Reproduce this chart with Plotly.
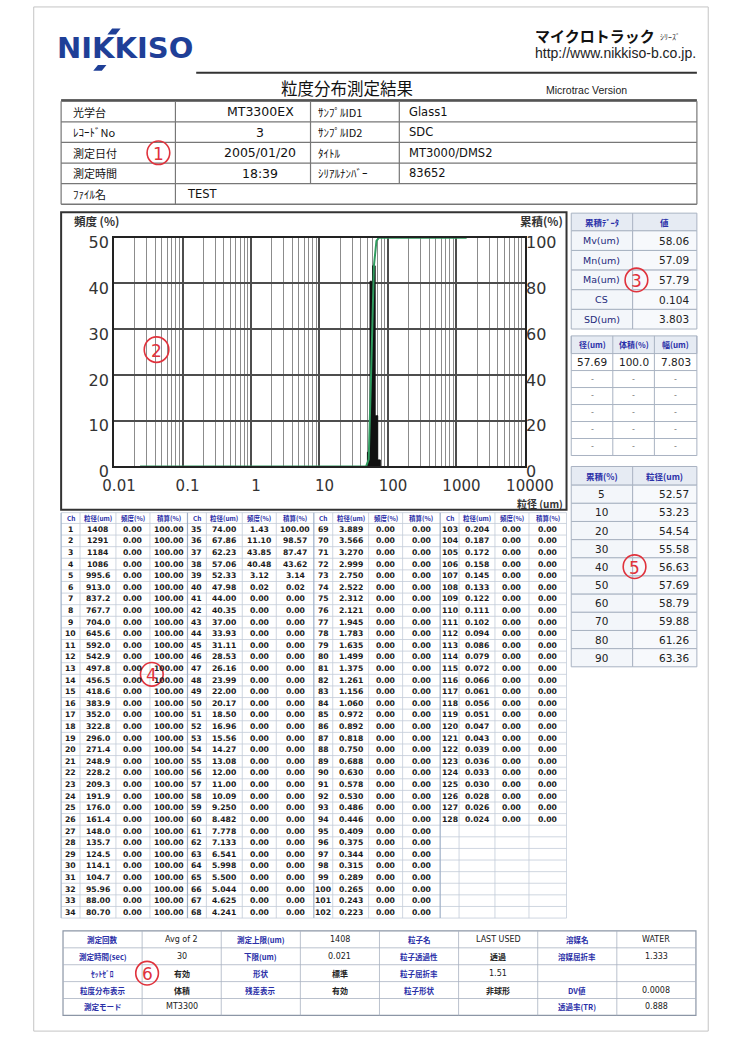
import plotly.graph_objects as go

W, H = 741, 1052
JP = "Noto Sans CJK JP"
NUM = "DejaVu Sans"
BLUE = "#2a2fa8"
RED = "#e0323c"

# ---- measured channels: size (um), frequency (%), cumulative (%) ----
ch_size = [1408, 1291, 1184, 1086, 995.6, 913.0, 837.2, 767.7, 704.0, 645.6,
           592.0, 542.9, 497.8, 456.5, 418.6, 383.9, 352.0, 322.8, 296.0, 271.4,
           248.9, 228.2, 209.3, 191.9, 176.0, 161.4, 148.0, 135.7, 124.5, 114.1,
           104.7, 95.96, 88.00, 80.70, 74.00, 67.86, 62.23, 57.06, 52.33, 47.98,
           44.00, 40.35, 37.00, 33.93, 31.11, 28.53, 26.16, 23.99, 22.00, 20.17,
           18.50, 16.96, 15.56, 14.27, 13.08, 12.00, 11.00, 10.09, 9.250, 8.482,
           7.778, 7.133, 6.541, 5.998, 5.500, 5.044, 4.625, 4.241, 3.889, 3.566,
           3.270, 2.999, 2.750, 2.522, 2.312, 2.121, 1.945, 1.783, 1.635, 1.499,
           1.375, 1.261, 1.156, 1.060, 0.972, 0.892, 0.818, 0.750, 0.688, 0.630,
           0.578, 0.530, 0.486, 0.446, 0.409, 0.375, 0.344, 0.315, 0.289, 0.265,
           0.243, 0.223, 0.204, 0.187, 0.172, 0.158, 0.145, 0.133, 0.122, 0.111,
           0.102, 0.094, 0.086, 0.079, 0.072, 0.066, 0.061, 0.056, 0.051, 0.047,
           0.043, 0.039, 0.036, 0.033, 0.030, 0.028, 0.026, 0.024]

ch_freq = [0.00, 0.00, 0.00, 0.00, 0.00, 0.00, 0.00, 0.00, 0.00, 0.00,
           0.00, 0.00, 0.00, 0.00, 0.00, 0.00, 0.00, 0.00, 0.00, 0.00,
           0.00, 0.00, 0.00, 0.00, 0.00, 0.00, 0.00, 0.00, 0.00, 0.00,
           0.00, 0.00, 0.00, 0.00, 1.43, 11.10, 43.85, 40.48, 3.12, 0.02,
           0.00, 0.00, 0.00, 0.00, 0.00, 0.00, 0.00, 0.00, 0.00, 0.00,
           0.00, 0.00, 0.00, 0.00, 0.00, 0.00, 0.00, 0.00, 0.00, 0.00,
           0.00, 0.00, 0.00, 0.00, 0.00, 0.00, 0.00, 0.00, 0.00, 0.00,
           0.00, 0.00, 0.00, 0.00, 0.00, 0.00, 0.00, 0.00, 0.00, 0.00,
           0.00, 0.00, 0.00, 0.00, 0.00, 0.00, 0.00, 0.00, 0.00, 0.00,
           0.00, 0.00, 0.00, 0.00, 0.00, 0.00, 0.00, 0.00, 0.00, 0.00,
           0.00, 0.00, 0.00, 0.00, 0.00, 0.00, 0.00, 0.00, 0.00, 0.00,
           0.00, 0.00, 0.00, 0.00, 0.00, 0.00, 0.00, 0.00, 0.00, 0.00,
           0.00, 0.00, 0.00, 0.00, 0.00, 0.00, 0.00, 0.00]

ch_cum = [100.00, 100.00, 100.00, 100.00, 100.00, 100.00, 100.00, 100.00, 100.00, 100.00,
          100.00, 100.00, 100.00, 100.00, 100.00, 100.00, 100.00, 100.00, 100.00, 100.00,
          100.00, 100.00, 100.00, 100.00, 100.00, 100.00, 100.00, 100.00, 100.00, 100.00,
          100.00, 100.00, 100.00, 100.00, 100.00, 98.57, 87.47, 43.62, 3.14, 0.02,
          0.00, 0.00, 0.00, 0.00, 0.00, 0.00, 0.00, 0.00, 0.00, 0.00,
          0.00, 0.00, 0.00, 0.00, 0.00, 0.00, 0.00, 0.00, 0.00, 0.00,
          0.00, 0.00, 0.00, 0.00, 0.00, 0.00, 0.00, 0.00, 0.00, 0.00,
          0.00, 0.00, 0.00, 0.00, 0.00, 0.00, 0.00, 0.00, 0.00, 0.00,
          0.00, 0.00, 0.00, 0.00, 0.00, 0.00, 0.00, 0.00, 0.00, 0.00,
          0.00, 0.00, 0.00, 0.00, 0.00, 0.00, 0.00, 0.00, 0.00, 0.00,
          0.00, 0.00, 0.00, 0.00, 0.00, 0.00, 0.00, 0.00, 0.00, 0.00,
          0.00, 0.00, 0.00, 0.00, 0.00, 0.00, 0.00, 0.00, 0.00, 0.00,
          0.00, 0.00, 0.00, 0.00, 0.00, 0.00, 0.00, 0.00]

x_tick_vals = [0.01, 0.1, 1, 10, 100, 1000, 10000]
x_tick_text = ["0.01", "0.1", "1", "10", "100", "1000", "10000"]

# ---- header information ----
info_rows = [
    ["光学台", "MT3300EX", "ｻﾝﾌﾟﾙID1", "Glass1"],
    ["ﾚｺｰﾄﾞNo", "3", "ｻﾝﾌﾟﾙID2", "SDC"],
    ["測定日付", "2005/01/20", "ﾀｲﾄﾙ", "MT3000/DMS2"],
    ["測定時間", "18:39", "ｼﾘｱﾙﾅﾝﾊﾞｰ", "83652"],
]
file_label, file_name = "ﾌｧｲﾙ名", "TEST"

# ---- summary statistics ----
summary_labels = ["Mv(um)", "Mn(um)", "Ma(um)", "CS", "SD(um)"]
summary_values = ["58.06", "57.09", "57.79", "0.104", "3.803"]
peak_header = ["径(um)", "体積(%)", "幅(um)"]
peak_rows = [["57.69", "100.0", "7.803"], ["-", "-", "-"], ["-", "-", "-"],
             ["-", "-", "-"], ["-", "-", "-"], ["-", "-", "-"]]
pct_levels = [5, 10, 20, 30, 40, 50, 60, 70, 80, 90]
pct_sizes = [52.57, 53.23, 54.54, 55.58, 56.63, 57.69, 58.79, 59.88, 61.26, 63.36]

# ---- measurement conditions ----
cond_rows = [
    ["測定回数", "Avg of 2", "測定上限(um)", "1408", "粒子名", "LAST USED", "溶媒名", "WATER"],
    ["測定時間(sec)", "30", "下限(um)", "0.021", "粒子透過性", "透過", "溶媒屈折率", "1.333"],
    ["ｾｯﾄｾﾞﾛ", "有効", "形状", "標準", "粒子屈折率", "1.51", "", ""],
    ["粒度分布表示", "体積", "残差表示", "有効", "粒子形状", "非球形", "DV値", "0.0008"],
    ["測定モード", "MT3300", "", "", "", "", "透過率(TR)", "0.888"],
]

shapes, anns = [], []


def X(v):
    return v / W


def Y(v):
    return 1 - v / H


def line(x0, y0, x1, y1, color="#666", w=1):
    shapes.append(dict(type="line", xref="paper", yref="paper", x0=X(x0), y0=Y(y0),
                       x1=X(x1), y1=Y(y1), line=dict(color=color, width=w), layer="above"))


def rect(x0, y0, x1, y1, color="#666", w=1, fill=None, layer="above"):
    d = dict(type="rect", xref="paper", yref="paper", x0=X(x0), y0=Y(y0), x1=X(x1), y1=Y(y1),
             line=dict(color=color, width=w), layer=layer)
    if fill:
        d["fillcolor"] = fill
    shapes.append(d)


def text(x, y, s, size=10, color="#111", family=JP, anchor="center", bold=False):
    anns.append(dict(x=X(x), y=Y(y), xref="paper", yref="paper", showarrow=False,
                     text=f"<b>{s}</b>" if bold else s, xanchor=anchor, yanchor="middle",
                     font=dict(size=size, color=color, family=family)))


def mark(cx, cy, label, r=12):
    shapes.append(dict(type="circle", xref="paper", yref="paper", x0=X(cx - r), x1=X(cx + r),
                       y0=Y(cy + r), y1=Y(cy - r), line=dict(color=RED, width=1.6), layer="above"))
    text(cx, cy + 1, label, size=17, color=RED, family=NUM)


# ---- page frame and header ----
rect(23, 3, 737, 1046, color="#c4c4c4", w=1, layer="below")
text(120, 45, "NIKKISO", size=29, color="#1f3f97", family=NUM, bold=True)
shapes.append(dict(type="path", xref="paper", yref="paper", fillcolor="#1f3f97", line=dict(width=0),
                   path=f"M {X(101)},{Y(31)} L {X(106)},{Y(25)} L {X(115)},{Y(25)} L {X(110)},{Y(31)} Z"))
shapes.append(dict(type="path", xref="paper", yref="paper", fillcolor="#1f3f97", line=dict(width=0),
                   path=f"M {X(86)},{Y(68)} L {X(91)},{Y(62)} L {X(100)},{Y(62)} L {X(95)},{Y(68)} Z"))
text(683, 32, "マイクロトラック", size=15, color="#111", family=JP, anchor="right", bold=True)
text(684, 33, "ｼﾘｰｽﾞ", size=8, color="#333", family=JP, anchor="left")
text(726, 50, "http://www.nikkiso-b.co.jp.", size=14, color="#222", family="Liberation Sans", anchor="right")
line(195, 70, 725, 70, color="#333", w=2.2)
text(355, 86, "粒度分布測定結果", size=16.5, color="#111")
text(608, 88, "Microtrac Version", size=10.5, color="#222", family="Liberation Sans")
line(52, 98, 725, 98, color="#333", w=2.2)

# ---- information table ----
it_top, it_h = 99, 21
c1, c2, c3 = 173, 316, 410
for i in range(6):
    line(52, it_top + i * it_h, 725, it_top + i * it_h, color="#777", w=1.2 if 0 < i < 5 else 1.6)
line(52, it_top, 52, it_top + 5 * it_h, color="#777", w=1.2)
line(725, it_top, 725, it_top + 5 * it_h, color="#777", w=1.2)
line(c1, it_top, c1, it_top + 5 * it_h, color="#777", w=1.2)
line(c2, it_top, c2, it_top + 4 * it_h, color="#777", w=1.2)
line(c3, it_top, c3, it_top + 4 * it_h, color="#777", w=1.2)
for i, row in enumerate(info_rows):
    cy = it_top + (i + 0.5) * it_h
    text(62, cy, row[0], size=11, anchor="left")
    text(263, cy, row[1], size=12.5, family=NUM)
    text(c2 + 6, cy, row[2], size=11, anchor="left")
    text(c3 + 8, cy, row[3], size=11.5, family=NUM, anchor="left")
cy = it_top + 4.5 * it_h
text(62, cy, file_label, size=11, anchor="left")
text(c1 + 10, cy, file_name, size=11.5, family=NUM, anchor="left")
mark(155, it_top + 2.5 * it_h, "1")

# ---- chart frame ----
rect(52, 212, 587, 515, color="#333", w=2)
text(63, 221, "頻度 (%)", size=11.5, color="#333", anchor="left", bold=True)
text(585, 221, "累積(%)", size=11.5, color="#333", anchor="right", bold=True)
text(585, 508.5, "粒径 (um)", size=10, color="#333", anchor="right", bold=True)
mark(153, 352, "2", r=13)

fig = go.Figure()
fig.add_trace(go.Scatter(x=ch_size, y=ch_freq, mode="lines", fill="tozeroy", fillcolor="#111",
                         line=dict(color="#111", width=1, shape="hvh"), hoverinfo="skip",
                         xaxis="x", yaxis="y", showlegend=False))
fig.add_trace(go.Scatter(x=ch_size, y=ch_cum, mode="lines",
                         line=dict(color="#2f9a5e", width=2), hoverinfo="skip",
                         xaxis="x", yaxis="y2", showlegend=False))

minor_vals = [m * 10.0 ** e for e in range(-2, 4) for m in range(2, 10)]
tick_font = dict(family=NUM, size=16, color="#333")
xtick_font = dict(family=NUM, size=15, color="#333")
plot_l, plot_r, plot_t, plot_b = 108, 543, 238, 471

# ---- right panel: statistics ----
px0, pxm, px1 = 592, 657, 725
GRID = "#a9b3c2"
HDR = "#e6ebf3"
rect(px0, 213, px1, 231, color=GRID, fill=HDR)
text((px0 + pxm) / 2, 222, "累積ﾃﾞｰﾀ", size=8.5, color=BLUE, bold=True)
text((pxm + px1) / 2, 222, "値", size=8.5, color=BLUE, bold=True)
for i, (lab, val) in enumerate(zip(summary_labels, summary_values)):
    y0 = 231 + i * 20
    rect(px0, y0, pxm, y0 + 20, color=GRID, fill="#f3f6fa")
    rect(pxm, y0, px1, y0 + 20, color=GRID, fill="#f7f9fc")
    text((px0 + pxm) / 2, y0 + 10, lab, size=9.5, color="#23287a", family=NUM)
    text(px1 - 6, y0 + 10, val, size=10.5, color="#222", family=NUM, anchor="right")
line(pxm, 213, pxm, 231, color=GRID)
mark(661, 281, "3")

pk = [592, 636, 680, 725]
rect(px0, 338, px1, 356, color=GRID, fill=HDR)
for j in range(3):
    text((pk[j] + pk[j + 1]) / 2, 347, peak_header[j], size=8, color=BLUE, bold=True)
    line(pk[j], 338, pk[j], 460, color=GRID)
line(px1, 338, px1, 460, color=GRID)
for i, row in enumerate(peak_rows):
    y0 = 356 + i * 17.3
    line(px0, y0 + 17.3, px1, y0 + 17.3, color=GRID)
    for j in range(3):
        text((pk[j] + pk[j + 1]) / 2, y0 + 8.6, row[j], size=10.5 if i == 0 else 8,
             color="#222" if i == 0 else "#777", family=NUM)

rect(px0, 471, px1, 490, color=GRID, fill=HDR)
text((px0 + pxm) / 2, 481, "累積(%)", size=8.5, color=BLUE, bold=True)
text((pxm + px1) / 2, 481, "粒径(um)", size=8.5, color=BLUE, bold=True)
for i, (lv, sz) in enumerate(zip(pct_levels, pct_sizes)):
    y0 = 490 + i * 18.5
    rect(px0, y0, pxm, y0 + 18.5, color=GRID, fill="#f3f6fa")
    rect(pxm, y0, px1, y0 + 18.5, color=GRID, fill="#f7f9fc")
    text((px0 + pxm) / 2, y0 + 9.2, str(lv), size=10.5, color="#222", family=NUM)
    text(px1 - 6, y0 + 9.2, f"{sz:.2f}", size=10.5, color="#222", family=NUM, anchor="right")
line(pxm, 471, pxm, 490, color=GRID)
mark(659, 573, "5")

# ---- channel data table ----
tb_left, blk_w = 52, 133.75
tb_top, hdr_h, row_h, n_rows = 518, 11, 11.82, 34
col_edges = [0, 20, 58, 94, 133.75]
col_head = ["Ch", "粒径(um)", "頻度(%)", "積算(%)"]
TGRID = "#c3cbd8"
tb_bottom = tb_top + hdr_h + n_rows * row_h
for i in range(n_rows + 2):
    yy = tb_top if i == 0 else tb_top + hdr_h + (i - 1) * row_h
    line(tb_left, yy, tb_left + 4 * blk_w, yy, color=TGRID, w=0.8)
for b in range(4):
    bx = tb_left + b * blk_w
    for k, e in enumerate(col_edges[:-1]):
        line(bx + e, tb_top, bx + e, tb_bottom, color="#9fb0c8" if k == 0 else TGRID,
             w=1.2 if k == 0 else 0.8)
    for k in range(4):
        cxx = bx + (col_edges[k] + col_edges[k + 1]) / 2
        text(cxx, tb_top + hdr_h / 2, col_head[k], size=6.5, color=BLUE, bold=True)


def fmt_size(v):
    if v >= 1000:
        return f"{v:.0f}"
    if v >= 100:
        return f"{v:.1f}"
    if v >= 10:
        return f"{v:.2f}"
    return f"{v:.3f}"


for idx, (s, f, c) in enumerate(zip(ch_size, ch_freq, ch_cum)):
    b, r = divmod(idx, n_rows)
    bx = tb_left + b * blk_w
    cy = tb_top + hdr_h + (r + 0.5) * row_h
    cells = [str(idx + 1), fmt_size(s), f"{f:.2f}", f"{c:.2f}"]
    for k in range(4):
        cxx = bx + (col_edges[k] + col_edges[k + 1]) / 2
        text(cxx, cy, cells[k], size=7.7, color="#1a1a1a", family=NUM, bold=True)
line(tb_left + 4 * blk_w, tb_top, tb_left + 4 * blk_w, tb_bottom, color=TGRID, w=0.8)
mark(148, tb_top + hdr_h + 13 * row_h, "4")

# ---- measurement conditions table ----
ct_left, ct_right, ct_top, ct_h = 54, 724, 944, 17.2
ct_w = (ct_right - ct_left) / 8
rect(ct_left, ct_top, ct_right, ct_top + 5 * ct_h, color="#8c96a6", w=1.2)
for i in range(1, 5):
    line(ct_left, ct_top + i * ct_h, ct_right, ct_top + i * ct_h, color="#a9b3c2", w=0.8)
for j in range(1, 8):
    line(ct_left + j * ct_w, ct_top, ct_left + j * ct_w, ct_top + 5 * ct_h, color="#a9b3c2", w=0.8)
for i, row in enumerate(cond_rows):
    cy = ct_top + (i + 0.5) * ct_h
    for j, s in enumerate(row):
        if not s:
            continue
        cxx = ct_left + (j + 0.5) * ct_w
        if j % 2 == 0:
            text(cxx, cy, s, size=7.5, color=BLUE, bold=True)
        else:
            text(cxx, cy, s, size=8, color="#222", family=NUM if s.isascii() else JP,
                 bold=not s.isascii())
mark(143, ct_top + 2.5 * ct_h, "6")

fig.update_layout(
    width=W, height=H, margin=dict(l=0, r=0, t=0, b=0),
    paper_bgcolor="white", plot_bgcolor="white", showlegend=False,
    xaxis=dict(type="log", range=[-2, 4], domain=[X(plot_l), X(plot_r)],
               tickmode="array", tickvals=x_tick_vals, ticktext=x_tick_text,
               tickfont=xtick_font, ticks="", ticklabelshift=5, ticklabelstandoff=5,
               showgrid=True, gridcolor="#4d4d4d", gridwidth=1.5,
               minor=dict(tickmode="array", tickvals=minor_vals, showgrid=True,
                          gridcolor="#8c8c8c", gridwidth=1, ticks=""),
               showline=True, linecolor="#222", linewidth=2, mirror=True, zeroline=False,
               anchor="y", fixedrange=True),
    yaxis=dict(range=[0, 50], dtick=10, domain=[Y(plot_b), Y(plot_t)],
               tickfont=tick_font, ticks="", ticklabelshift=5, showgrid=True,
               gridcolor="#4d4d4d", gridwidth=1.5,
               showline=True, linecolor="#222", linewidth=2, mirror=True, zeroline=False,
               anchor="x", fixedrange=True),
    yaxis2=dict(range=[0, 100], dtick=20, overlaying="y", side="right", anchor="x",
                tickfont=tick_font, ticks="", ticklabelshift=5, showgrid=False,
                zeroline=False, fixedrange=True),
    shapes=shapes, annotations=anns,
)

fig.write_html("out.html")
